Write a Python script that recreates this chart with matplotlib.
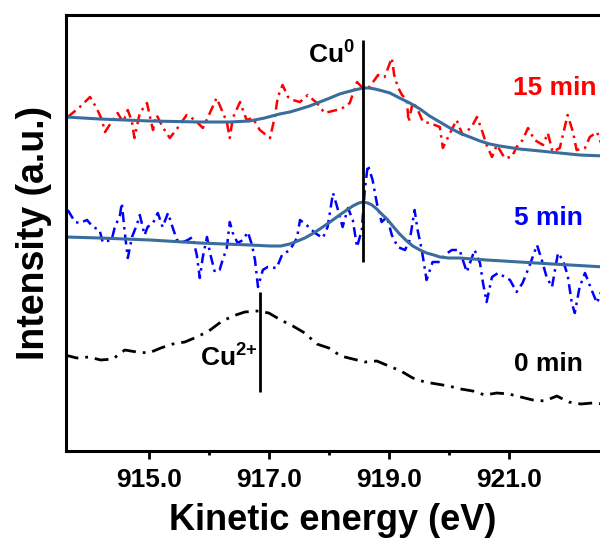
import matplotlib
matplotlib.use("Agg")
import matplotlib.pyplot as plt
from matplotlib.ticker import FixedLocator

plt.rcParams['font.family'] = ['Liberation Sans', 'DejaVu Sans']
plt.rcParams['mathtext.fontset'] = 'custom'
plt.rcParams['mathtext.rm'] = 'Liberation Sans'
plt.rcParams['mathtext.bf'] = 'Liberation Sans:bold'

# ---- data (kinetic energy in eV, intensity in arbitrary offset units) ----
e_0min = [913.6, 913.8, 914.0, 914.2, 914.4, 914.6, 914.8, 915.0, 915.2, 915.4,
          915.6, 915.8, 916.0, 916.2, 916.4, 916.6, 916.8, 917.0, 917.2, 917.4,
          917.6, 917.8, 918.0, 918.2, 918.4, 918.6, 918.8, 919.0, 919.2, 919.4,
          919.6, 919.8, 920.0, 920.2, 920.4, 920.6, 920.8, 921.0, 921.2, 921.4,
          921.6, 921.8, 922.0, 922.2, 922.4, 922.6]
i_0min = [96, 93, 94, 91, 92, 101, 99, 98, 103, 107,
          109, 114, 120, 129, 135, 139, 140, 138, 131, 125,
          118, 107, 103, 95, 92, 89, 90, 85, 80, 73,
          69, 67, 65, 62, 60, 56, 58, 57, 54, 51,
          50, 55, 49, 47, 48, 47]

e_5min = [913.65, 913.77, 913.85, 913.97, 914.07, 914.18, 914.23, 914.38, 914.43, 914.52,
          914.55, 914.60, 914.65, 914.72, 914.80, 914.85, 914.93, 914.98, 915.07, 915.15,
          915.23, 915.32, 915.40, 915.47, 915.57, 915.65, 915.73, 915.80, 915.85, 915.90,
          915.97, 916.02, 916.10, 916.18, 916.23, 916.30, 916.35, 916.40, 916.48, 916.57,
          916.65, 916.72, 916.77, 916.82, 916.90, 916.98, 917.13, 917.22, 917.35, 917.47,
          917.52, 917.63, 917.77, 917.90, 917.98, 918.07, 918.13, 918.23, 918.32, 918.40,
          918.47, 918.55, 918.60, 918.65, 918.73, 918.80, 918.88, 918.97, 919.05, 919.15,
          919.27, 919.35, 919.43, 919.48, 919.55, 919.63, 919.73, 919.85, 919.93, 920.05,
          920.18, 920.30, 920.43, 920.52, 920.57, 920.63, 920.72, 920.82, 921.02, 921.13,
          921.23, 921.35, 921.47, 921.55, 921.63, 921.72, 921.82, 921.90, 921.98, 922.05,
          922.10, 922.18, 922.27, 922.38, 922.47, 922.55]
i_5min = [241, 229, 228, 231, 224, 221, 209, 211, 223, 236,
          248, 218, 193, 214, 226, 236, 216, 224, 228, 238,
          224, 238, 223, 211, 209, 211, 214, 196, 173, 194,
          214, 198, 179, 181, 191, 203, 229, 218, 208, 211,
          219, 206, 191, 164, 181, 184, 183, 196, 201, 213,
          231, 226, 218, 213, 224, 258, 246, 224, 243, 231,
          204, 221, 261, 286, 271, 248, 229, 234, 216, 204,
          201, 211, 241, 221, 201, 171, 189, 189, 196, 201,
          201, 179, 201, 188, 168, 149, 174, 178, 171, 159,
          168, 186, 206, 191, 174, 164, 198, 191, 176, 148,
          138, 164, 178, 161, 148, 161]

e_15min = [913.65, 913.85, 914.02, 914.13, 914.22, 914.27, 914.40, 914.48, 914.57, 914.65,
           914.72, 914.76, 914.85, 914.97, 915.02, 915.07, 915.13, 915.23, 915.35, 915.48,
           915.63, 915.77, 915.90, 915.98, 916.13, 916.23, 916.30, 916.35, 916.40, 916.52,
           916.63, 916.73, 916.85, 917.02, 917.10, 917.15, 917.23, 917.32, 917.40, 917.52,
           917.65, 917.80, 917.93, 918.13, 918.23, 918.35, 918.47, 918.55, 918.68, 918.82,
           918.93, 919.05, 919.09, 919.15, 919.22, 919.30, 919.33, 919.40, 919.47, 919.57,
           919.68, 919.85, 919.90, 919.98, 920.13, 920.23, 920.38, 920.47, 920.55, 920.63,
           920.72, 920.80, 920.93, 921.05, 921.13, 921.23, 921.32, 921.43, 921.57, 921.65,
           921.73, 921.85, 921.98, 922.07, 922.13, 922.27, 922.35, 922.47, 922.55]
i_15min = [334, 344, 354, 343, 331, 319, 331, 338, 329, 341,
           329, 313, 338, 348, 334, 321, 336, 324, 313, 323,
           336, 331, 323, 333, 353, 339, 329, 313, 333, 349,
           331, 333, 321, 313, 334, 354, 366, 354, 351, 349,
           356, 348, 338, 341, 343, 348, 369, 364, 364, 376,
           374, 393, 376, 364, 356, 351, 329, 349, 343, 329,
           328, 324, 303, 313, 331, 316, 324, 334, 321, 306,
           294, 306, 293, 294, 304, 311, 323, 311, 306, 318,
           299, 303, 336, 319, 301, 303, 314, 319, 306]

e_fit15 = [913.62, 914.18, 915.02, 915.85, 916.35, 916.68, 916.93, 917.18, 917.35, 917.52,
           917.68, 917.85, 918.02, 918.18, 918.30, 918.43, 918.50, 918.57, 918.67, 918.77,
           918.90, 919.02, 919.18, 919.35, 919.52, 919.68, 919.85, 920.02, 920.18, 920.35,
           920.52, 920.68, 920.85, 921.18, 921.52, 921.85, 922.18, 922.60]
i_fit15 = [334, 332, 330, 329, 329, 330, 333, 337, 339, 342,
           345, 349, 353, 357, 359, 361, 362, 363, 363, 362,
           360, 358, 353, 348, 342, 335, 329, 323, 318, 314,
           310, 307, 305, 302, 300, 298, 296, 295]

e_fit5 = [913.62, 914.18, 915.02, 915.85, 916.68, 917.02, 917.20, 917.35, 917.48, 917.60,
          917.72, 917.85, 918.02, 918.18, 918.30, 918.40, 918.50, 918.57, 918.65, 918.72,
          918.80, 918.88, 918.97, 919.08, 919.18, 919.30, 919.40, 919.52, 919.63, 919.75,
          919.85, 920.00, 920.18, 920.63, 921.18, 921.73, 922.60]
i_fit5 = [214, 213, 211, 208, 206, 205, 205, 207, 210, 213,
          217, 222, 229, 236, 241, 245, 248, 249, 248, 246,
          242, 237, 232, 224, 217, 210, 205, 201, 198, 196,
          194, 193, 193, 191, 189, 187, 184]

cu0_pos, cu0_span = 918.57, (189, 411)
cu2_pos, cu2_span = 916.86, (59, 159)

xticks_major = [915.0, 917.0, 919.0, 921.0]
xticks_minor = [916.0, 918.0, 920.0]

# ---- figure ----
fig = plt.figure(figsize=(6.0, 5.52), dpi=100)
ax = fig.add_axes([66/600, 1 - 451/552, 1 - 66/600, (451 - 15)/552])

fit_color = '#3a6c9c'
ax.plot(e_0min, i_0min, color='black', lw=2.0, dashes=(5, 2.5, 1, 2.5))
ax.plot(e_5min, i_5min, color='#0000ff', lw=1.8, dashes=(4, 2, 1, 2))
ax.plot(e_15min, i_15min, color='#ff0000', lw=1.8, dashes=(4, 2, 1, 2))
ax.plot(e_fit15, i_fit15, color=fit_color, lw=2.2, solid_joinstyle='round')
ax.plot(e_fit5, i_fit5, color=fit_color, lw=2.2, solid_joinstyle='round')

ax.vlines(cu0_pos, *cu0_span, color='black', lw=2.0)
ax.vlines(cu2_pos, *cu2_span, color='black', lw=2.0)

tfont = dict(fontsize=19, fontweight='bold')
ax.text(918.43, 396, r'$\mathbf{Cu^{0}}$', ha='right', va='center', color='black', **tfont)
ax.text(916.82, 93, r'$\mathbf{Cu^{2{+}}}$', ha='right', va='center', color='black', **tfont)
ax.text(922.46, 363, '15 min', ha='right', va='center', color='#ff0000', **tfont)
ax.text(922.23, 233, '5 min', ha='right', va='center', color='#0000ff', **tfont)
ax.text(922.23, 87, '0 min', ha='right', va='center', color='black', **tfont)

ax.set_xlim(913.62, 922.52)
ax.set_ylim(0, 436)

for s in ['left', 'bottom', 'top']:
    ax.spines[s].set_linewidth(2.2)
ax.spines['right'].set_visible(False)

ax.set_yticks([])
ax.xaxis.set_major_locator(FixedLocator(xticks_major))
ax.xaxis.set_minor_locator(FixedLocator(xticks_minor))
ax.set_xticklabels([f'{v:.1f}' for v in xticks_major])
ax.tick_params(axis='x', which='major', direction='out', length=6, width=2.0,
               labelsize=19, pad=6)
ax.tick_params(axis='x', which='minor', direction='out', length=3, width=2.0)
for lbl in ax.get_xticklabels():
    lbl.set_fontweight('bold')

ax.set_xlabel('Kinetic energy (eV)', fontsize=26, fontweight='bold', labelpad=8)
ax.set_ylabel('Intensity (a.u.)', fontsize=27, fontweight='bold', labelpad=10)

fig.savefig('out.png', dpi=100)
